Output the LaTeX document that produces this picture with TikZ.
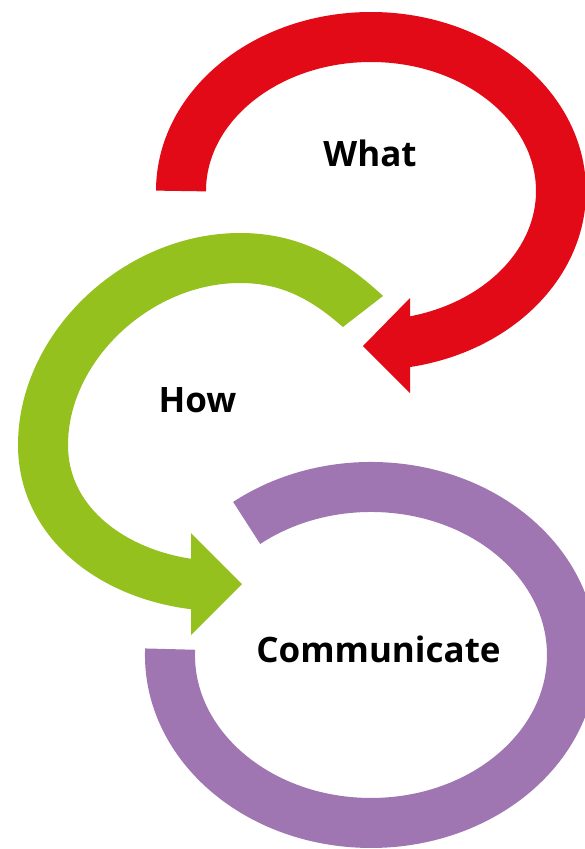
\documentclass[tikz,border=0pt]{standalone}
\usepackage{fontspec}
\setmainfont{Open Sans}
\definecolor{cred}{HTML}{E20A17}
\definecolor{cgreen}{HTML}{95C11F}
\definecolor{cpurple}{HTML}{9F76B2}
\begin{document}
\begin{tikzpicture}[x=1pt,y=1pt,
  band/.style={line width=50pt,line cap=butt,line join=round},
  lbl/.style={anchor=base,inner sep=0pt,font=\fontsize{35}{40}\selectfont\bfseries}]
\useasboundingbox (0,0) rectangle (585,-849);
\clip (0,0) rectangle (585,-849);
% red: What
\draw[band,cred] (181,-191) arc[start angle=180,end angle=-80.6,x radius=190pt,y radius=154pt];
\fill[cred] (410,-298) -- (410,-393) -- (363,-346) -- cycle;
% green: How
\begin{scope}
\clip (0,0) -- (585,0) -- (585,-250) -- (423,-265) -- (330,-337) -- (330,-420)
  -- (585,-420) -- (585,-849) -- (0,-849) -- cycle;
\draw[band,cgreen] (385,-331.5) -- (363,-311.5)
  .. controls (326,-278) and (290,-258) .. (240,-258)
  .. controls (137,-258) and (43,-347) .. (43,-445)
  .. controls (43,-521) and (110,-573) .. (191,-584) -- (205,-586);
\end{scope}
\fill[cgreen] (191,-533) -- (191,-635) -- (242,-584) -- cycle;
% purple: Communicate
\draw[band,cpurple] (170.1,-649.1) arc[start angle=178,end angle=488.2,x radius=201pt,y radius=168pt];
% labels
\node[lbl] (what) at (370,-166) {What};
\node[lbl] (how) at (197.5,-412) {How};
\node[lbl] (comm) at (378.5,-662) {Communicate};
\end{tikzpicture}
\end{document}
